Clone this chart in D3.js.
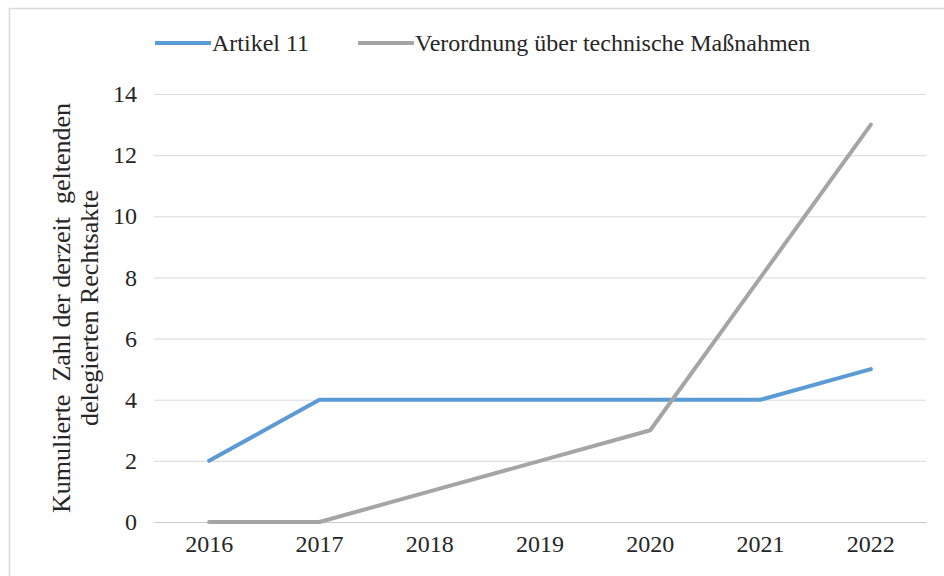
<!DOCTYPE html>
<html>
<head>
<meta charset="utf-8">
<script src="https://cdn.jsdelivr.net/npm/d3@7"></script>
<style>
  body { margin: 0; background: #fff; }
  svg text { font-family: "Liberation Serif", "Times New Roman", Times, "DejaVu Serif", serif !important; fill: #262626; }
</style>
</head>
<body>
<div id="chart"></div>
<script>
// ── Data ─────────────────────────────────────────────
const years = ["2016", "2017", "2018", "2019", "2020", "2021", "2022"];
const artikel11 = [2, 4, 4, 4, 4, 4, 5];
const verordnung = [0, 0, 1, 2, 3, 8, 13];
const yTicks = [0, 2, 4, 6, 8, 10, 12, 14];

const seriesList = [
  { name: "Artikel 11", values: artikel11, color: "#5b9bd5" },
  { name: "Verordnung über technische Maßnahmen", values: verordnung, color: "#a5a5a5" }
];

const W = 944, H = 576;
const plot = { left: 154, right: 926, top: 94, bottom: 522 };

const svg = d3.select("#chart").append("svg")
  .attr("width", W).attr("height", H);

// outer frame
svg.append("rect")
  .attr("x", 9.5).attr("y", 8.5)
  .attr("width", W).attr("height", H)
  .attr("fill", "none").attr("stroke", "#d9d9d9").attr("stroke-width", 1.5);

const x = d3.scaleBand().domain(years).range([plot.left, plot.right]);
const y = d3.scaleLinear().domain([0, 14]).range([plot.bottom, plot.top]);

// gridlines + y labels
const yAxis = svg.append("g")
  .attr("transform", `translate(${plot.left},0)`)
  .attr("font-family", null)
  .call(d3.axisLeft(y).tickValues(yTicks).tickSize(-(plot.right - plot.left)).tickPadding(17));
yAxis.select(".domain").remove();
yAxis.selectAll(".tick line").attr("stroke", "#d9d9d9").attr("stroke-width", 1);
yAxis.selectAll(".tick text").style("font-size", "24px").attr("fill", "#262626");

// x axis
const xAxis = svg.append("g")
  .attr("transform", `translate(0,${plot.bottom})`)
  .call(d3.axisBottom(x).tickSize(0).tickPadding(13));
xAxis.select(".domain").attr("stroke", "#c8c8c8").attr("stroke-width", 1.2);
xAxis.selectAll(".tick text").style("font-size", "24px").attr("fill", "#262626");

// lines
const line = d3.line()
  .x((d, i) => x(years[i]) + x.bandwidth() / 2)
  .y(d => y(d));

seriesList.forEach(s => {
  svg.append("path")
    .datum(s.values)
    .attr("d", line)
    .attr("fill", "none")
    .attr("stroke", s.color)
    .attr("stroke-width", 4)
    .attr("stroke-linejoin", "round")
    .attr("stroke-linecap", "round");
});

// y-axis title
const title = svg.append("text")
  .attr("transform", `translate(70,308) rotate(-90)`)
  .attr("text-anchor", "middle")
  .style("font-size", "26px")
  .style("white-space", "pre");
title.append("tspan").attr("x", 0).attr("dy", 0)
  .text("Kumulierte  Zahl der derzeit  geltenden");
title.append("tspan").attr("x", 0).attr("dy", 28)
  .text("delegierten Rechtsakte");

// legend
const legendX = [155, 358];
seriesList.forEach((s, i) => {
  const g = svg.append("g").attr("transform", `translate(${legendX[i]},43)`);
  g.append("line").attr("x1", 0).attr("x2", 56).attr("y1", 0).attr("y2", 0)
    .attr("stroke", s.color).attr("stroke-width", 4);
  g.append("text").attr("x", 57).attr("y", 8)
    .style("font-size", "24px")
    .text(s.name);
});
</script>
</body>
</html>
